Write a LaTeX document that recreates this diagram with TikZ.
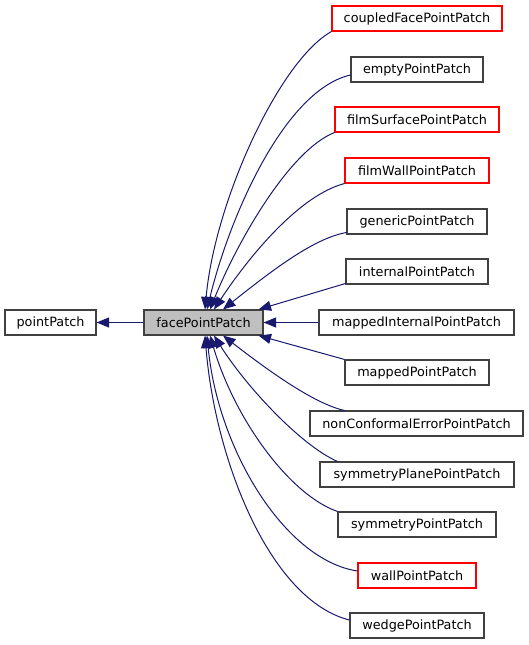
\documentclass[tikz,border=0pt]{standalone}
\usepackage{fontspec}
\setmainfont{DejaVu Sans}
\usetikzlibrary{arrows.meta}
\definecolor{edgeblue}{HTML}{191970}
\definecolor{boxgray}{HTML}{404040}
\definecolor{facegray}{HTML}{BFBFBF}
\definecolor{boxred}{HTML}{FF0000}
\begin{document}
\begin{tikzpicture}[x=1pt,y=-1pt,
  font=\fontsize{12.8}{15}\selectfont,
  cls/.style={draw=boxgray, line width=1.1pt, minimum height=25pt, inner sep=0pt, fill=white},
  redcls/.style={cls, draw=boxred},
  inh/.style={draw=edgeblue, line width=1pt, -{Triangle[length=12.5pt,width=10pt]}}]
\useasboundingbox (0,0) rectangle (529,645);

\node[cls, minimum width=91pt] (pp) at (50.5,322.5) {pointPatch};
\node[cls, fill=facegray, minimum width=119pt] (face) at (203.5,322.5) {facePointPatch};

\node[redcls, minimum width=170pt] (coupled) at (417,18.5) {coupledFacePointPatch};
\node[cls, minimum width=132pt] (empty) at (417,69.5) {emptyPointPatch};
\node[redcls, minimum width=164pt] (filmSurface) at (417,119.5) {filmSurfacePointPatch};
\node[redcls, minimum width=144pt] (filmWall) at (417,170.5) {filmWallPointPatch};
\node[cls, minimum width=140pt] (generic) at (417,221.5) {genericPointPatch};
\node[cls, minimum width=142pt] (internal) at (417,271.5) {internalPointPatch};
\node[cls, minimum width=195pt] (mappedInternal) at (416.5,322.5) {mappedInternalPointPatch};
\node[cls, minimum width=144pt] (mapped) at (417,372.5) {mappedPointPatch};
\node[cls, minimum width=213pt] (nonConformal) at (416.5,423.5) {nonConformalErrorPointPatch};
\node[cls, minimum width=194pt] (symmetryPlane) at (417,474.5) {symmetryPlanePointPatch};
\node[cls, minimum width=158pt] (symmetry) at (417,524.5) {symmetryPointPatch};
\node[redcls, minimum width=118pt] (wall) at (417,575.5) {wallPointPatch};
\node[cls, minimum width=134pt] (wedge) at (417,625.5) {wedgePointPatch};

\draw[inh] (face.west) -- (pp.east);

\draw[inh] (coupled.south west) .. controls (280,60) and (215,200) .. ([xshift=1.5pt]face.north);
\draw[inh] ([yshift=-5.5pt]empty.west) .. controls (285,90) and (230,215) .. ([xshift=3.5pt]face.north);
\draw[inh] (filmSurface.south west) .. controls (290,150) and (238,240) .. ([xshift=6.5pt]face.north);
\draw[inh] (filmWall.south west) .. controls (300,195) and (250,255) .. ([xshift=10.5pt]face.north);
\draw[inh] ([yshift=-11pt]generic.west) .. controls (315,238) and (275,268) .. ([xshift=19.5pt]face.north);
\draw[inh] ([yshift=-12pt]internal.west) -- ([xshift=-5pt]face.north east);
\draw[inh] (mappedInternal.west) -- (face.east);
\draw[inh] (mapped.north west) -- ([xshift=-5pt]face.south east);
\draw[inh] ([xshift=35pt]nonConformal.north west) .. controls (315,404) and (270,372) .. ([xshift=19.5pt]face.south);
\draw[inh] ([xshift=18pt]symmetryPlane.north west) .. controls (300,445) and (245,385) .. ([xshift=10.5pt]face.south);
\draw[inh] (symmetry.north west) .. controls (290,495) and (235,420) .. ([xshift=6.5pt]face.south);
\draw[inh] ([yshift=4.5pt]wall.west) .. controls (285,560) and (218,450) .. ([xshift=3.5pt]face.south);
\draw[inh] ([yshift=5.5pt]wedge.west) .. controls (270,600) and (215,460) .. ([xshift=1.5pt]face.south);
\end{tikzpicture}
\end{document}
